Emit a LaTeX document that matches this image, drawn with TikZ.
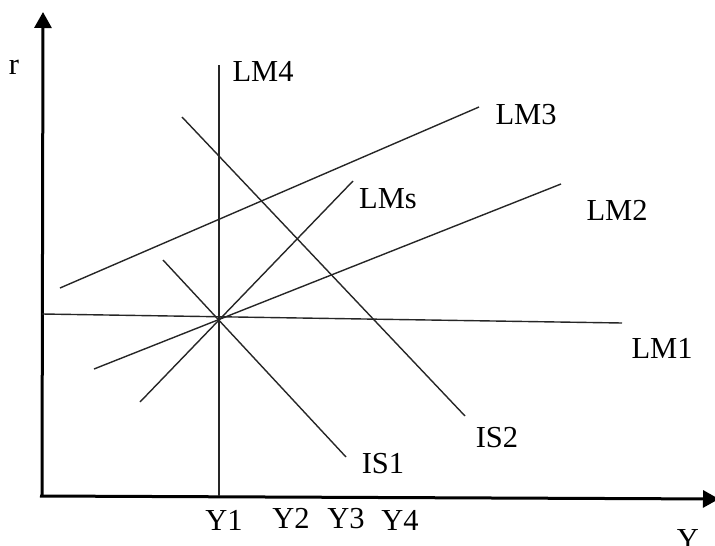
\documentclass[tikz,border=0pt]{standalone}
\usepackage{fontspec}
\setmainfont{Liberation Serif}
\usetikzlibrary{arrows.meta}
\begin{document}
\begin{tikzpicture}[x=1pt,y=-1pt,
  curve/.style={line width=1.4pt,color=black!85},
  axis/.style={line width=3pt,-{Triangle[length=16pt,width=17pt]}},
  lbl/.style={inner sep=0pt,font=\fontsize{30.5}{36}\selectfont}]
\useasboundingbox (0,0) rectangle (715,546);
% axes
\coordinate (O) at (42,496);
\coordinate (ytop) at (43,12);
\coordinate (xstart) at (40,496);
\coordinate (xend) at (719,499);
\draw[axis] (O) -- (ytop);
\draw[axis] (xstart) -- (xend);
% line ends
\coordinate (lm4a) at (219,65);
\coordinate (lm4b) at (219,496);
\coordinate (lm1a) at (42,314);
\coordinate (lm1b) at (622,323);
\coordinate (lm2a) at (94,369);
\coordinate (lm2b) at (561,184);
\coordinate (lm3a) at (60,288);
\coordinate (lm3b) at (479,107);
\coordinate (lmsa) at (140,402);
\coordinate (lmsb) at (353,181);
\coordinate (is1a) at (163,260);
\coordinate (is1b) at (346,457);
\coordinate (is2a) at (182,117);
\coordinate (is2b) at (465,416);
\draw[curve] (lm4a) -- (lm4b);
\draw[curve] (lm1a) -- (lm1b);
\draw[curve] (lm2a) -- (lm2b);
\draw[curve] (lm3a) -- (lm3b);
\draw[curve] (lmsa) -- (lmsb);
\draw[curve] (is1a) -- (is1b);
\draw[curve] (is2a) -- (is2b);
% labels
\node[lbl] (r) at (14,67) {r};
\node[lbl] (tLM4) at (263,71) {LM4};
\node[lbl] (tLM3) at (526,115) {LM3};
\node[lbl] (tLMs) at (388,199) {LMs};
\node[lbl] (tLM2) at (617,210) {LM2};
\node[lbl] (tLM1) at (662,348) {LM1};
\node[lbl] (tIS2) at (497,438) {IS2};
\node[lbl] (tIS1) at (383,464) {IS1};
\node[lbl] (tY1) at (224,520) {Y1};
\node[lbl] (tY2) at (291,518) {Y2};
\node[lbl] (tY3) at (346,519) {Y3};
\node[lbl] (tY4) at (400,520) {Y4};
\node[lbl] (tY) at (688,540) {Y};
\end{tikzpicture}
\end{document}
